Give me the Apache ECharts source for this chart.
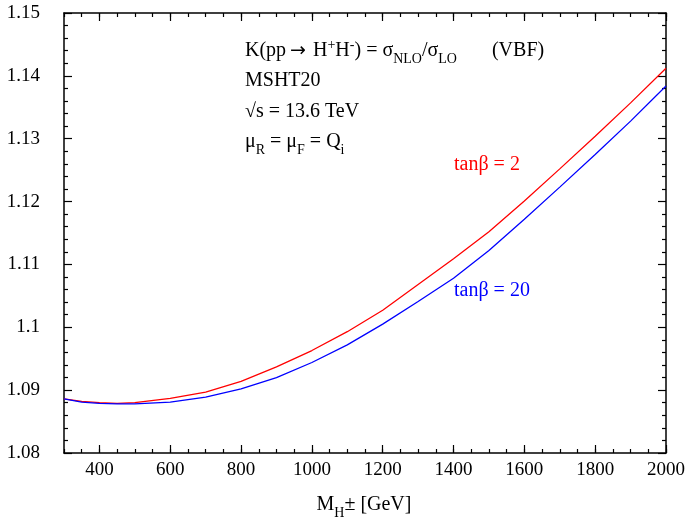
<!DOCTYPE html>
<html>
<head>
<meta charset="utf-8">
<script src="https://cdn.jsdelivr.net/npm/echarts@6/dist/echarts.min.js"></script>
<style>
  html, body { margin: 0; padding: 0; background: #fff; }
  #chart { width: 693px; height: 523px; }
</style>
</head>
<body>
<div id="chart"></div>
<script>
// charged Higgs mass [GeV]
const masses = [300, 350, 400, 450, 500, 600, 700, 800, 900, 1000, 1100, 1200, 1300, 1400, 1500, 1600, 1700, 1800, 1900, 2000]
// K factor, tan(beta) = 2
const kTan2 = [1.0886, 1.0882, 1.0880, 1.0879, 1.0880, 1.0887, 1.0897, 1.0914, 1.0937, 1.0963, 1.0993, 1.1027, 1.1068, 1.1109, 1.1152, 1.1201, 1.1252, 1.1304, 1.1357, 1.1412]
// K factor, tan(beta) = 20
const kTan20 = [1.0886, 1.0881, 1.0879, 1.0878, 1.0878, 1.0881, 1.0889, 1.0902, 1.0920, 1.0944, 1.0972, 1.1005, 1.1041, 1.1078, 1.1122, 1.1172, 1.1223, 1.1275, 1.1328, 1.1384]
const xMajorTicks = [400, 600, 800, 1000, 1200, 1400, 1600, 1800, 2000]

const font = 'Liberation Serif'
const fs = 19

// rich styles: all bottom aligned, normal text lifted by padding so sub/sup can shift
const rich = {
  n: { fontFamily: font, fontSize: 20, verticalAlign: 'bottom', padding: [0, 0, 5, 0], fill: '#000' },
  ar: { fontFamily: 'DejaVu Sans', fontSize: 19, verticalAlign: 'bottom', padding: [0, 2, 5, 4], fill: '#000' },
  sub: { fontFamily: font, fontSize: 14, verticalAlign: 'bottom', padding: [0, 0, 0, 0] },
  sup: { fontFamily: font, fontSize: 14, verticalAlign: 'bottom', padding: [0, 0, 14, 0] }
}

function pairs(ys) {
  return masses.map((m, i) => [m, ys[i]])
}

const minorX = {
  type: 'value', min: 300, max: 2000, interval: 50,
  axisLine: { show: true, onZero: false, lineStyle: { color: '#000', width: 1.5 } },
  axisTick: { show: true, inside: true, length: 4, lineStyle: { color: '#000', width: 1.2 } },
  axisLabel: { show: false },
  splitLine: { show: false }
}
const majorX = {
  type: 'value', min: 300, max: 2000,
  axisLine: { show: false, onZero: false },
  axisTick: { show: true, inside: true, length: 8, customValues: xMajorTicks, lineStyle: { color: '#000', width: 1.2 } },
  axisLabel: { show: true, customValues: xMajorTicks, color: '#000', fontFamily: font, fontSize: fs, margin: 8,
    formatter: v => String(v) },
  splitLine: { show: false }
}

const yCommon = {
  type: 'value', min: 1.08, max: 1.15, interval: 0.01,
  axisLine: { show: true, onZero: false, lineStyle: { color: '#000', width: 1.5 } },
  axisTick: { show: true, inside: true, length: 8, lineStyle: { color: '#000', width: 1.2 } },
  minorTick: { show: true, splitNumber: 5, length: 4, lineStyle: { color: '#000', width: 1.2 } },
  splitLine: { show: false }
}

let option = {
  animation: false,
  grid: { left: 64, right: 27, top: 13, bottom: 70 },
  xAxis: [
    Object.assign({}, minorX, { position: 'bottom' }),
    Object.assign({}, majorX, { position: 'bottom' }),
    Object.assign({}, minorX, { position: 'top' }),
    Object.assign({}, majorX, { position: 'top', axisLabel: { show: false } })
  ],
  yAxis: [
    Object.assign({}, yCommon, { position: 'left', axisLabel: { color: '#000', fontFamily: font, fontSize: fs, margin: 24 } }),
    Object.assign({}, yCommon, { position: 'right', axisLabel: { show: false } })
  ],
  series: [
    {
      type: 'line', name: 'tanb2', data: pairs(kTan2), xAxisIndex: 0, yAxisIndex: 0,
      showSymbol: false, smooth: false, lineStyle: { color: '#ff0000', width: 1.3 }
    },
    {
      type: 'line', name: 'tanb20', data: pairs(kTan20), xAxisIndex: 0, yAxisIndex: 0,
      showSymbol: false, smooth: false, lineStyle: { color: '#0000ff', width: 1.3 }
    }
  ],
  graphic: [
    { type: 'text', x: 245, y: 66, style: { text: '{n|K(pp}{ar|→}{n| H}{sup|+}{n|H}{sup|-}{n|) = σ}{sub|NLO}{n|/σ}{sub|LO}{n|       (VBF)}', rich: rich, verticalAlign: 'bottom' } },
    { type: 'text', x: 245, y: 96, style: { text: '{n|MSHT20}', rich: rich, verticalAlign: 'bottom' } },
    { type: 'text', x: 245, y: 127, style: { text: '{n|√s = 13.6 TeV}', rich: rich, verticalAlign: 'bottom' } },
    { type: 'text', x: 245, y: 157, style: { text: '{n|μ}{sub|R}{n| = μ}{sub|F}{n| = Q}{sub|i}', rich: rich, verticalAlign: 'bottom' } },
    { type: 'text', x: 454, y: 175, style: { text: 'tanβ = 2', fontFamily: font, fontSize: 20, fill: '#ff0000', verticalAlign: 'bottom' } },
    { type: 'text', x: 454, y: 301, style: { text: 'tanβ = 20', fontFamily: font, fontSize: 20, fill: '#0000ff', verticalAlign: 'bottom' } },
    { type: 'text', x: 364, y: 520, style: { text: '{n|M}{sub|H}{n|± [GeV]}', rich: rich, align: 'center', verticalAlign: 'bottom' } }
  ]
}

let chart = echarts.init(document.getElementById('chart'))
chart.setOption(option)
</script>
</body>
</html>
